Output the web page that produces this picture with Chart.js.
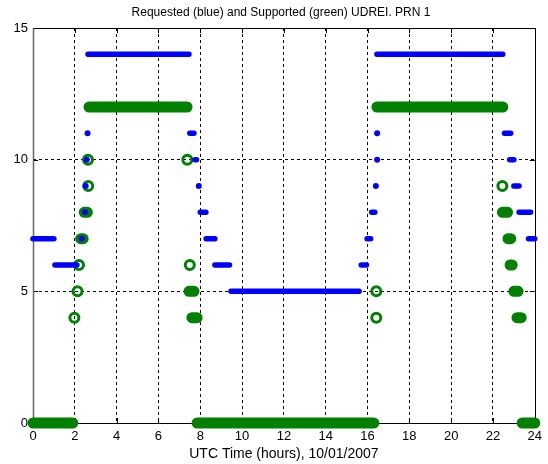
<!DOCTYPE html>
<html>
<head>
<meta charset="utf-8">
<script src="https://cdn.jsdelivr.net/npm/chart.js@4/dist/chart.umd.min.js"></script>
<style>
  html, body { margin: 0; padding: 0; background: #fff; }
  canvas { display: block; }
</style>
</head>
<body>
<canvas id="udrei" width="548" height="464"></canvas>
<script>
// Texts and axis ticks
const chartTitle = 'Requested (blue) and Supported (green) UDREI. PRN 1';
const xAxisTitle = 'UTC Time (hours), 10/01/2007';
const xTickValues = [0, 2, 4, 6, 8, 10, 12, 14, 16, 18, 20, 22, 24];
const yTickValues = [0, 5, 10, 15];

// Requested UDREI: runs of constant value (start hour, end hour, UDREI)
const reqStart = [0.00, 1.05, 2.33, 2.49, 2.52, 2.57, 2.61, 2.63, 7.50, 7.75, 7.93, 8.00, 8.28, 8.70, 9.47,
                  15.70, 15.98, 16.20, 16.40, 16.46, 16.46, 16.45, 22.55, 22.80, 23.00, 23.25, 23.70];
const reqEnd   = [1.00, 2.10, 2.33, 2.49, 2.52, 2.57, 2.61, 7.46, 7.70, 7.82, 7.93, 8.27, 8.70, 9.40, 15.60,
                  15.95, 16.15, 16.35, 16.40, 16.46, 16.46, 22.47, 22.85, 23.00, 23.25, 23.80, 24.00];
const reqLevel = [7, 6, 7, 8, 9, 10, 11, 14, 11, 10, 9, 8, 7, 6, 5,
                  6, 7, 8, 9, 10, 11, 14, 11, 10, 9, 8, 7];

// Supported UDREI: runs of constant value (start hour, end hour, UDREI)
const supStart = [0.00, 1.98, 2.13, 2.20, 2.28, 2.45, 2.64, 2.63, 2.68, 7.38, 7.50, 7.46, 7.60, 7.85,
                  16.42, 16.42, 16.45, 22.45, 22.45, 22.72, 22.82, 23.00, 23.15, 23.40];
const supEnd   = [1.90, 1.98, 2.13, 2.20, 2.40, 2.60, 2.64, 2.63, 7.37, 7.38, 7.50, 7.70, 7.85, 16.30,
                  16.42, 16.42, 22.47, 22.45, 22.70, 22.85, 22.92, 23.20, 23.35, 24.00];
const supLevel = [0, 4, 5, 6, 7, 8, 9, 10, 12, 10, 6, 5, 4, 0,
                  5, 4, 12, 9, 8, 7, 6, 5, 4, 0];

// Runs that span time become line pieces; a null y breaks the line between them
function spanPoints(start, end, level) {
  const pts = [];
  for (let i = 0; i < start.length; i++) {
    if (end[i] === start[i]) continue;
    pts.push({ x: start[i], y: level[i] });
    pts.push({ x: end[i], y: level[i] });
    pts.push({ x: end[i], y: null });
  }
  return pts;
}

// Single samples become markers
function singlePoints(start, end, level) {
  const pts = [];
  for (let i = 0; i < start.length; i++) {
    if (end[i] === start[i]) pts.push({ x: start[i], y: level[i] });
  }
  return pts;
}

const BLUE = 'rgb(0,0,255)';
const GREEN = 'rgb(0,128,0)';

// Plot frame with inward tick marks, drawn under the data
const framePlugin = {
  id: 'frame',
  beforeDatasetsDraw(chart) {
    const { ctx, chartArea: a, scales } = chart;
    ctx.save();
    ctx.lineWidth = 1;
    ctx.strokeStyle = '#000';
    ctx.setLineDash([]);
    const tl = 5;
    ctx.beginPath();
    xTickValues.forEach(v => {
      const px = Math.round(scales.x.getPixelForValue(v)) + 0.5;
      ctx.moveTo(px, a.bottom); ctx.lineTo(px, a.bottom - tl);
      ctx.moveTo(px, a.top); ctx.lineTo(px, a.top + tl);
    });
    yTickValues.forEach(v => {
      const py = Math.round(scales.y.getPixelForValue(v)) + 0.5;
      ctx.moveTo(a.left, py); ctx.lineTo(a.left + tl, py);
      ctx.moveTo(a.right, py); ctx.lineTo(a.right - tl, py);
    });
    ctx.stroke();
    const L = Math.round(a.left) + 0.5, R = Math.round(a.right) + 0.5;
    const T = Math.round(a.top) + 0.5, B = Math.round(a.bottom) + 0.5;
    ctx.beginPath();
    ctx.moveTo(L, T); ctx.lineTo(R, T); ctx.lineTo(R, B); ctx.lineTo(L, B);
    ctx.stroke();
    // left edge is a softer grey
    ctx.strokeStyle = '#666';
    ctx.lineWidth = 1.5;
    ctx.beginPath();
    ctx.moveTo(L, T); ctx.lineTo(L, B);
    ctx.stroke();
    ctx.restore();
  },
  afterDraw(chart) {
    const { ctx } = chart;
    ctx.save();
    ctx.fillStyle = '#000';
    ctx.font = '12px "Liberation Sans", Arial, sans-serif';
    ctx.textAlign = 'center';
    ctx.textBaseline = 'middle';
    ctx.fillText(chartTitle, 281, 13);
    ctx.restore();
  }
};

const gridColor = (lo, hi) => (c) => (c.tick && (c.tick.value === lo || c.tick.value === hi)) ? 'rgba(0,0,0,0)' : '#000';

new Chart(document.getElementById('udrei'), {
  type: 'scatter',
  data: {
    datasets: [
      {
        label: 'Requested',
        data: spanPoints(reqStart, reqEnd, reqLevel),
        showLine: true,
        spanGaps: false,
        borderColor: BLUE,
        borderWidth: 5.5,
        borderCapStyle: 'round',
        pointRadius: 0,
        clip: false,
        order: 0
      },
      {
        label: 'Requested (single)',
        data: singlePoints(reqStart, reqEnd, reqLevel),
        showLine: false,
        pointRadius: 3,
        pointBorderWidth: 0,
        pointBackgroundColor: BLUE,
        pointBorderColor: BLUE,
        clip: false,
        order: 1
      },
      {
        label: 'Supported',
        data: spanPoints(supStart, supEnd, supLevel),
        showLine: true,
        spanGaps: false,
        borderColor: GREEN,
        borderWidth: 11,
        borderCapStyle: 'round',
        pointRadius: 0,
        clip: false,
        order: 2
      },
      {
        label: 'Supported (single)',
        data: singlePoints(supStart, supEnd, supLevel),
        showLine: false,
        pointRadius: 4.5,
        pointBorderWidth: 3,
        pointBackgroundColor: 'rgba(0,0,0,0)',
        pointBorderColor: GREEN,
        clip: false,
        order: 3
      }
    ]
  },
  options: {
    responsive: false,
    animation: false,
    events: [],
    layout: { padding: { top: 28, right: 13, bottom: 0, left: 0 } },
    plugins: {
      legend: { display: false },
      tooltip: { enabled: false },
      title: { display: false }
    },
    scales: {
      x: {
        type: 'linear',
        min: 0, max: 24,
        afterBuildTicks: (s) => { s.ticks = xTickValues.map(v => ({ value: v })); },
        afterFit: (s) => { s.height = 41; },
        grid: { color: gridColor(0, 24), lineWidth: 1, drawTicks: false },
        border: { display: false, dash: [3, 3] },
        ticks: {
          color: '#000',
          padding: 6,
          maxRotation: 0,
          font: { family: '"Liberation Sans", Arial, sans-serif', size: 13 }
        },
        title: {
          display: true,
          text: xAxisTitle,
          color: '#000',
          padding: { top: 0, bottom: 1 },
          font: { family: '"Liberation Sans", Arial, sans-serif', size: 14 }
        }
      },
      y: {
        type: 'linear',
        min: 0, max: 15,
        afterBuildTicks: (s) => { s.ticks = yTickValues.map(v => ({ value: v })); },
        afterFit: (s) => { s.width = 33; },
        grid: { color: gridColor(0, 15), lineWidth: 1, drawTicks: false },
        border: { display: false, dash: [3, 3] },
        ticks: {
          color: '#000',
          padding: 5,
          font: { family: '"Liberation Sans", Arial, sans-serif', size: 13 }
        }
      }
    }
  },
  plugins: [framePlugin]
});
</script>
</body>
</html>
